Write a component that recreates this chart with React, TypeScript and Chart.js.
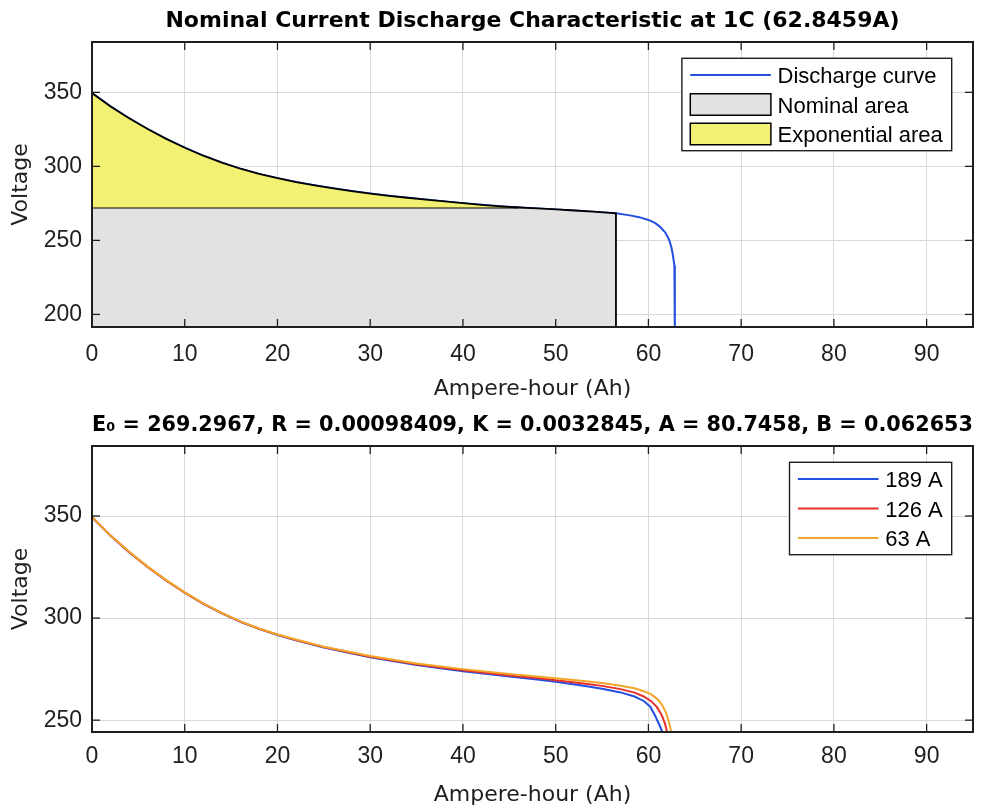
import React, { useEffect, useRef } from "react";
import { Chart, registerables } from "chart.js";

Chart.register(...registerables);

// ---------- data ----------
const TOP_TITLE = "Nominal Current Discharge Characteristic at 1C (62.8459A)";
const BOTTOM_TITLE =
  "E\u2080 = 269.2967, R = 0.00098409, K = 0.0032845, A = 80.7458, B = 0.062653";
const X_LABEL = "Ampere-hour (Ah)";
const Y_LABEL = "Voltage";

const X_TICKS = [0, 10, 20, 30, 40, 50, 60, 70, 80, 90];
const X_MIN = 0;
const X_MAX = 95;

const TOP_Y_TICKS = [200, 250, 300, 350];
const TOP_Y_MIN = 191.5;
const TOP_Y_MAX = 384;

const BOTTOM_Y_TICKS = [250, 300, 350];
const BOTTOM_Y_MIN = 244.2;
const BOTTOM_Y_MAX = 384.3;

const TOP_LABELS = ["Discharge curve", "Nominal area", "Exponential area"];

const DISCHARGE_AH = [
  0, 2, 4, 6, 8, 10, 12, 14, 16, 18, 20, 22, 24, 26, 28, 30, 32, 34, 36, 38, 40,
  42, 44, 46, 48, 50, 52, 54, 56.5, 58, 59, 60, 60.7, 61.2, 61.8, 62.2, 62.45,
  62.6, 62.7, 62.8, 62.85, 62.85,
];
const DISCHARGE_V = [
  349.5, 340.5, 332.5, 325.2, 318.6, 312.6, 307.2, 302.5, 298.4, 294.9, 292.0,
  289.4, 287.2, 285.2, 283.3, 281.6, 280.1, 278.8, 277.6, 276.3, 275.1, 274.0,
  273.0, 272.2, 271.6, 270.9, 270.2, 269.4, 268.3, 266.9, 265.7, 263.8, 261.8,
  259.5, 255.5, 251.0, 246.0, 241.5, 237.5, 233.0, 228.0, 185.0,
];
const NOMINAL_V = 272.2;
const NOMINAL_AH = 56.5;
const EXP_AH = 46;

const SERIES_LABELS = ["189 A", "126 A", "63 A"];
const AH_189 = [
  0, 2, 4, 6, 8, 10, 12, 14, 16, 18, 20, 22, 25, 30, 35, 40, 45, 48, 50, 53, 55,
  57, 58.5, 59.5, 60.2, 60.7, 61.2, 61.55, 61.7,
];
const V_189 = [
  349.4, 340.3, 332.3, 325.0, 318.4, 312.4, 307.0, 302.3, 298.2, 294.7, 291.7,
  289.1, 285.6, 280.8, 277.0, 274.0, 271.4, 269.9, 268.8, 266.9, 265.4, 263.6,
  261.6, 259.4, 256.6, 252.4, 247.5, 243.8, 240.0,
];
const AH_126 = [
  0, 2, 4, 6, 8, 10, 12, 14, 16, 18, 20, 22, 25, 30, 35, 40, 45, 48, 50, 53, 55,
  57, 58.5, 59.5, 60.3, 60.9, 61.4, 61.75, 62.0, 62.1,
];
const V_126 = [
  349.5, 340.4, 332.4, 325.1, 318.5, 312.5, 307.1, 302.4, 298.3, 294.8, 291.9,
  289.3, 285.8, 281.1, 277.4, 274.5, 271.9, 270.6, 269.6, 268.0, 266.8, 265.2,
  263.5, 261.6, 259.3, 256.5, 252.8, 248.8, 244.5, 242.0,
];
const AH_63 = [
  0, 2, 4, 6, 8, 10, 12, 14, 16, 18, 20, 22, 25, 30, 35, 40, 45, 48, 50, 53, 55,
  57, 58.5, 59.5, 60.3, 61.0, 61.5, 61.9, 62.15, 62.35, 62.5,
];
const V_63 = [
  349.6, 340.5, 332.5, 325.2, 318.6, 312.6, 307.2, 302.5, 298.4, 294.9, 292.0,
  289.5, 286.0, 281.4, 277.8, 275.0, 272.6, 271.4, 270.5, 269.2, 268.2, 266.9,
  265.6, 264.2, 262.6, 260.2, 257.3, 253.6, 250.0, 246.6, 243.0,
];

// ---------- styles ----------
const BLUE = "#2350e0";
const RED = "#e8302a";
const ORANGE = "#f4a62a";
const GRAY_FILL = "#e2e2e2";
const YELLOW_FILL = "#f2f174";
const AXIS_COLOR = "#1f1f1f";
const GRID_COLOR = "#d9d9d9";
const TICK_FONT = "'Liberation Sans', Arial, sans-serif";
const LABEL_FONT = "'DejaVu Sans', sans-serif";

const pts = (xs: number[], ys: number[]) => xs.map((x, i) => ({ x, y: ys[i] }));

// ---------- plugin: MATLAB-like box, inward ticks, legend ----------
const matlabPlugin = {
  id: "matlabAxes",
  afterDatasetsDraw(chart: any, _args: any, opts: any) {
    const { ctx, chartArea: a, scales } = chart;
    ctx.save();
    const seg = (x1: number, y1: number, x2: number, y2: number) => {
      ctx.beginPath();
      ctx.moveTo(x1, y1);
      ctx.lineTo(x2, y2);
      ctx.stroke();
    };
    const tl = 8;
    ctx.strokeStyle = AXIS_COLOR;
    ctx.lineWidth = 1.3;
    scales.x.ticks.forEach((t: any) => {
      const px = scales.x.getPixelForValue(t.value);
      seg(px, a.bottom, px, a.bottom - tl);
      seg(px, a.top, px, a.top + tl);
    });
    scales.y.ticks.forEach((t: any) => {
      const py = scales.y.getPixelForValue(t.value);
      seg(a.left, py, a.left + tl, py);
      seg(a.right, py, a.right - tl, py);
    });
    ctx.lineWidth = 2;
    ctx.strokeRect(a.left, a.top, a.right - a.left, a.bottom - a.top);

    const L = opts.legend;
    if (L) {
      const items = chart.data.datasets.filter((d: any) => d.legendType);
      ctx.font = `${L.fontSize}px ${TICK_FONT}`;
      const textW = Math.max(
        ...items.map((d: any) => ctx.measureText(d.label).width)
      );
      const w = L.padL + L.sampleW + L.gap + textW + L.padR;
      const h = items.length * L.rowH + L.extraH;
      const x = a.right - L.insetR - w;
      const y = a.top + L.insetT;
      ctx.fillStyle = "#ffffff";
      ctx.fillRect(x, y, w, h);
      ctx.strokeStyle = AXIS_COLOR;
      ctx.lineWidth = 1.4;
      ctx.strokeRect(x, y, w, h);
      items.forEach((d: any, i: number) => {
        const cy = y + L.extraH / 2 + L.rowH * (i + 0.5);
        const sx = x + L.padL;
        if (d.legendType === "line") {
          ctx.strokeStyle = d.borderColor;
          ctx.lineWidth = 2;
          seg(sx, cy, sx + L.sampleW, cy);
        } else {
          ctx.fillStyle = d.backgroundColor;
          ctx.fillRect(sx, cy - L.swatchH / 2, L.sampleW, L.swatchH);
          ctx.strokeStyle = "#000";
          ctx.lineWidth = 1.5;
          ctx.strokeRect(sx, cy - L.swatchH / 2, L.sampleW, L.swatchH);
        }
        ctx.fillStyle = "#000";
        ctx.textAlign = "left";
        ctx.textBaseline = "middle";
        ctx.fillText(d.label, sx + L.sampleW + L.gap, cy + 2);
      });
    }
    ctx.restore();
  },
};

const LEGEND_CFG = {
  fontSize: 22,
  padL: 8.4,
  sampleW: 80.6,
  gap: 6.7,
  padR: 9,
  rowH: 29.5,
  extraH: 3.9,
  insetR: 21.3,
  insetT: 16.3,
  swatchH: 21.5,
};

function makeOptions(cfg: {
  title: string;
  titleSize: number;
  titlePad: { top: number; bottom: number };
  yMin: number;
  yMax: number;
  yTicks: number[];
  xAxisHeight: number;
  xTickPad: number;
  xTitlePad: number;
}) {
  return {
    responsive: false,
    maintainAspectRatio: false,
    animation: false as const,
    devicePixelRatio: 1,
    events: [],
    layout: { padding: { left: 0, right: 19, top: 0, bottom: 0 } },
    elements: { point: { radius: 0 }, line: { tension: 0 } },
    plugins: {
      legend: { display: false },
      tooltip: { enabled: false },
      title: {
        display: true,
        text: cfg.title,
        fullSize: false,
        color: "#000",
        font: { family: LABEL_FONT, size: cfg.titleSize, weight: "bold" as const, lineHeight: 1.2 },
        padding: cfg.titlePad,
      },
      matlabAxes: { legend: LEGEND_CFG },
    },
    scales: {
      x: {
        type: "linear" as const,
        min: X_MIN,
        max: X_MAX,
        afterBuildTicks: (s: any) => {
          s.ticks = X_TICKS.map((v) => ({ value: v }));
        },
        afterFit: (s: any) => {
          s.height = cfg.xAxisHeight;
        },
        grid: { color: GRID_COLOR, lineWidth: 1, drawTicks: false },
        border: { display: false },
        ticks: {
          color: AXIS_COLOR,
          padding: cfg.xTickPad,
          maxRotation: 0,
          autoSkip: false,
          font: { family: TICK_FONT, size: 23, lineHeight: 1.2 },
        },
        title: {
          display: true,
          text: X_LABEL,
          color: AXIS_COLOR,
          padding: { top: 0, bottom: cfg.xTitlePad },
          font: { family: LABEL_FONT, size: 22, lineHeight: 1 },
        },
      },
      y: {
        type: "linear" as const,
        min: cfg.yMin,
        max: cfg.yMax,
        afterBuildTicks: (s: any) => {
          s.ticks = cfg.yTicks.map((v) => ({ value: v }));
        },
        afterFit: (s: any) => {
          s.width = 92;
        },
        grid: { color: GRID_COLOR, lineWidth: 1, drawTicks: false },
        border: { display: false },
        ticks: {
          color: AXIS_COLOR,
          padding: 10,
          autoSkip: false,
          font: { family: TICK_FONT, size: 23, lineHeight: 1.2 },
        },
        title: {
          display: true,
          text: Y_LABEL,
          color: AXIS_COLOR,
          padding: { top: 8, bottom: 0 },
          font: { family: LABEL_FONT, size: 22, lineHeight: 1.2 },
        },
      },
    },
  };
}

function buildTop(): any {
  const curve = pts(DISCHARGE_AH, DISCHARGE_V);
  const expPoly = [
    { x: 0, y: NOMINAL_V },
    ...curve.filter((p) => p.x <= EXP_AH),
  ];
  const nomPoly = [
    { x: 0, y: TOP_Y_MIN },
    { x: 0, y: NOMINAL_V },
    { x: EXP_AH, y: NOMINAL_V },
    ...curve.filter((p) => p.x > EXP_AH && p.x <= NOMINAL_AH),
    { x: NOMINAL_AH, y: TOP_Y_MIN },
  ];
  return {
    type: "line",
    data: {
      datasets: [
        {
          label: TOP_LABELS[0],
          data: curve,
          borderColor: BLUE,
          borderWidth: 2,
          fill: false,
          order: 3,
          legendType: "line",
        },
        {
          label: TOP_LABELS[1],
          data: nomPoly,
          borderColor: "#000",
          borderWidth: 1.8,
          backgroundColor: GRAY_FILL,
          fill: "start",
          order: 2,
          legendType: "patch",
        },
        {
          label: TOP_LABELS[2],
          data: expPoly,
          borderColor: "#000",
          borderWidth: 1.8,
          backgroundColor: YELLOW_FILL,
          fill: { value: NOMINAL_V },
          order: 1,
          legendType: "patch",
        },
      ],
    },
    options: makeOptions({
      title: TOP_TITLE,
      titleSize: 22,
      titlePad: { top: 8, bottom: 7.6 },
      yMin: TOP_Y_MIN,
      yMax: TOP_Y_MAX,
      yTicks: TOP_Y_TICKS,
      xAxisHeight: 73,
      xTickPad: 14,
      xTitlePad: 0,
    }),
    plugins: [matlabPlugin],
  };
}

function buildBottom(): any {
  const series = [
    { ah: AH_189, v: V_189, color: BLUE },
    { ah: AH_126, v: V_126, color: RED },
    { ah: AH_63, v: V_63, color: ORANGE },
  ];
  return {
    type: "line",
    data: {
      datasets: series.map((s, i) => ({
        label: SERIES_LABELS[i],
        data: pts(s.ah, s.v),
        borderColor: s.color,
        borderWidth: 2,
        fill: false,
        order: series.length - i,
        legendType: "line",
      })),
    },
    options: makeOptions({
      title: BOTTOM_TITLE,
      titleSize: 21,
      titlePad: { top: 13, bottom: 7.8 },
      yMin: BOTTOM_Y_MIN,
      yMax: BOTTOM_Y_MAX,
      yTicks: BOTTOM_Y_TICKS,
      xAxisHeight: 78,
      xTickPad: 11,
      xTitlePad: 4,
    }),
    plugins: [matlabPlugin],
  };
}

function ChartCanvas({ top, height, build }: { top: number; height: number; build: () => any }) {
  const ref = useRef<HTMLCanvasElement>(null);
  useEffect(() => {
    const chart = new Chart(ref.current as HTMLCanvasElement, build());
    return () => chart.destroy();
  }, []);
  return (
    <canvas
      ref={ref}
      width={992}
      height={height}
      style={{ position: "absolute", left: 0, top, width: 992, height }}
    />
  );
}

export default function App() {
  return (
    <div
      style={{
        position: "absolute",
        left: 0,
        top: 0,
        width: 992,
        height: 810,
        background: "#ffffff",
        overflow: "hidden",
      }}
    >
      <ChartCanvas top={0} height={400} build={buildTop} />
      <ChartCanvas top={400} height={410} build={buildBottom} />
    </div>
  );
}
